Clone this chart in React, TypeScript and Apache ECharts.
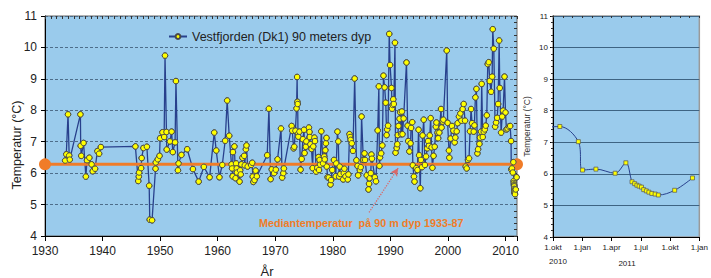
import React, { useEffect, useRef } from "react";
import * as echarts from "echarts";

const FONT = "'Liberation Sans', Arial, Helvetica, sans-serif";

const seriesName = "Vestfjorden (Dk1) 90 meters dyp";

const years = [
  1933.5, 1933.7, 1934.0, 1934.2, 1934.3, 1936.15, 1936.2, 1936.3, 1936.7, 1937.1,
  1937.3, 1937.7, 1938.1, 1938.3, 1938.7, 1939.1, 1939.4, 1939.7, 1945.7, 1946.2,
  1946.3, 1946.35, 1946.7, 1946.8, 1947.1, 1947.7, 1948.1, 1948.2, 1948.6, 1949.2,
  1949.25, 1949.6, 1949.9, 1950.0, 1950.4, 1950.7, 1950.85, 1951.1, 1951.15, 1951.7,
  1952.0, 1952.2, 1952.6, 1952.75, 1953.1, 1953.2, 1953.7, 1954.7, 1955.7, 1956.7,
  1957.6, 1958.6, 1959.4, 1959.75, 1960.3, 1960.8, 1961.3, 1961.65, 1962.0, 1962.4,
  1962.5, 1962.6, 1962.65, 1962.9, 1963.1, 1963.2, 1963.3, 1963.35, 1963.8, 1963.9,
  1964.0, 1964.1, 1964.3, 1964.6, 1964.7, 1964.9, 1965.0, 1965.2, 1965.8, 1966.0,
  1966.1, 1966.2, 1966.4, 1966.6, 1966.8, 1968.6, 1968.9, 1969.2, 1969.4, 1969.8,
  1970.1, 1970.4, 1971.0, 1971.2, 1971.4, 1971.5, 1972.85, 1972.95, 1973.2, 1973.3,
  1973.5, 1973.7, 1973.8, 1973.85, 1973.9, 1973.95, 1974.0, 1974.2, 1974.4, 1974.6,
  1974.8, 1975.0, 1975.1, 1975.3, 1975.4, 1975.85, 1975.95, 1976.0, 1976.1, 1976.3,
  1976.5, 1976.6, 1976.8, 1976.9, 1977.1, 1977.3, 1977.5, 1977.6, 1977.7, 1977.8,
  1978.0, 1978.3, 1978.5, 1978.6, 1978.7, 1978.8, 1978.9, 1978.95, 1979.1, 1979.3,
  1979.6, 1979.7, 1979.9, 1980.2, 1980.5, 1980.6, 1980.8, 1980.95, 1981.1, 1981.2,
  1981.3, 1981.8, 1981.9, 1982.0, 1982.2, 1982.6, 1982.7, 1982.9, 1983.0, 1983.1,
  1983.3, 1983.5, 1983.8, 1984.1, 1984.3, 1984.4, 1984.7, 1984.85, 1985.0, 1985.3,
  1985.5, 1985.6, 1985.9, 1986.2, 1986.3, 1986.4, 1986.6, 1986.7, 1986.8, 1987.3,
  1987.5, 1987.8, 1988.0, 1988.1, 1988.2, 1988.4, 1988.6, 1988.8, 1989.0, 1989.2,
  1989.35, 1989.45, 1989.6, 1989.8, 1989.95, 1990.2, 1990.3, 1990.4, 1990.5, 1990.6,
  1990.8, 1990.9, 1991.1, 1991.2, 1991.3, 1991.4, 1991.6, 1991.7, 1991.85, 1992.0,
  1992.1, 1992.3, 1992.8, 1993.0, 1993.1, 1993.3, 1993.5, 1993.6, 1993.8, 1993.9,
  1994.1, 1994.2, 1994.5, 1994.7, 1994.9, 1995.0, 1995.2, 1995.3, 1995.5, 1995.6,
  1995.8, 1996.0, 1996.2, 1996.4, 1996.55, 1996.7, 1996.85, 1997.0, 1997.15, 1997.3,
  1997.5, 1997.7, 1997.9, 1998.0, 1998.2, 1998.3, 1998.5, 1998.8, 1998.9, 1999.1,
  1999.2, 1999.8, 1999.95, 2000.18, 2000.24, 2000.47, 2000.7, 2000.94, 2001.17, 2001.28,
  2001.52, 2001.69, 2001.92, 2002.16, 2002.33, 2002.56, 2002.74, 2002.97, 2003.09, 2003.26,
  2003.49, 2003.67, 2003.84, 2004.02, 2004.19, 2004.48, 2004.6, 2004.77, 2004.95, 2005.12,
  2005.24, 2005.47, 2005.58, 2005.76, 2005.87, 2006.05, 2006.22, 2006.4, 2006.57, 2006.75,
  2006.92, 2007.09, 2007.27, 2007.5, 2007.68, 2007.79, 2007.97, 2008.2, 2008.37, 2008.55,
  2008.72, 2008.9, 2009.01, 2009.24, 2009.42, 2009.59, 2009.83, 2010.0, 2010.17, 2010.35,
  2010.6, 2010.81, 2010.97, 2011.0, 2011.12, 2011.28, 2011.37, 2011.43, 2011.45, 2011.47,
  2011.49, 2011.51, 2011.53, 2011.55, 2011.57, 2011.59, 2011.62, 2011.65, 2011.79, 2011.94,
];

const temps = [
  6.40, 6.60, 7.87, 6.56, 6.43, 7.87, 6.87, 6.55, 6.96, 5.89,
  6.41, 6.49, 6.28, 6.06, 6.14, 6.70, 6.62, 6.83, 6.85, 5.75,
  5.89, 6.02, 6.16, 6.48, 6.80, 6.84, 5.60, 4.52, 4.50, 6.14,
  6.34, 6.44, 6.55, 7.11, 7.30, 7.15, 9.74, 7.31, 6.75, 7.01,
  7.32, 6.67, 6.98, 8.93, 6.09, 6.31, 6.58, 6.76, 6.13, 5.73,
  6.20, 5.87, 7.29, 6.72, 5.87, 6.26, 7.03, 8.31, 7.19, 6.28,
  6.15, 5.90, 6.67, 6.85, 5.84, 6.31, 6.15, 6.02, 5.73, 6.09,
  5.96, 6.28, 6.49, 6.55, 6.25, 6.76, 6.88, 6.21, 6.26, 6.33,
  5.89, 5.72, 5.78, 6.08, 5.90, 6.57, 8.05, 5.81, 6.12, 6.00,
  6.11, 6.44, 7.42, 5.86, 6.00, 6.15, 7.50, 7.35, 6.79, 6.84,
  7.35, 8.06, 9.06, 8.27, 8.20, 7.25, 7.16, 7.32, 6.11, 6.45,
  7.08, 7.38, 6.64, 6.84, 7.01, 7.45, 7.31, 7.15, 6.92, 6.77,
  6.16, 6.85, 7.13, 7.02, 6.05, 6.17, 6.51, 6.10, 6.42, 6.27,
  7.33, 6.31, 6.53, 6.44, 6.73, 6.95, 7.12, 6.21, 5.87, 5.86,
  5.64, 5.78, 6.10, 6.42, 5.90, 6.31, 7.32, 7.01, 5.89, 6.21,
  5.97, 5.80, 6.00, 6.14, 5.90, 5.80, 5.96, 7.24, 7.15, 7.06,
  6.95, 6.71, 9.01, 6.41, 6.23, 5.93, 6.10, 6.19, 7.80, 6.42,
  6.63, 6.42, 5.93, 5.48, 5.66, 5.84, 6.00, 6.59, 6.46, 5.87,
  5.74, 7.36, 8.76, 6.23, 6.50, 6.63, 6.88, 9.10, 8.73, 8.24,
  7.21, 7.39, 7.51, 10.43, 9.44, 8.71, 8.05, 8.17, 8.35, 8.20,
  10.15, 6.65, 6.80, 6.92, 7.21, 7.50, 7.73, 7.94, 7.24, 7.96,
  7.24, 7.74, 9.52, 7.51, 7.02, 6.69, 6.95, 7.44, 7.62, 6.25,
  5.89, 5.73, 6.16, 6.10, 7.38, 6.57, 5.52, 6.42, 6.19, 7.20,
  7.70, 6.26, 6.53, 6.79, 7.02, 6.87, 7.20, 7.75, 6.82, 6.17,
  6.55, 6.84, 7.48, 7.61, 7.29, 7.11, 7.29, 8.04, 7.45, 7.64,
  7.70, 9.90, 7.60, 6.72, 6.49, 7.10, 7.50, 7.35, 6.98, 7.13,
  7.33, 7.59, 7.80, 7.90, 7.67, 8.04, 8.20, 7.67, 6.21, 6.15,
  6.42, 6.47, 7.33, 8.04, 7.59, 7.32, 7.52, 8.41, 8.68, 6.63,
  6.76, 6.93, 7.13, 7.32, 8.84, 7.15, 7.32, 7.39, 7.51, 7.84,
  9.47, 9.53, 8.93, 8.59, 9.07, 10.58, 9.96, 7.48, 7.61, 7.76,
  8.20, 10.22, 8.71, 7.29, 7.80, 7.99, 9.07, 7.93, 7.39, 7.42,
  7.48, 7.50, 7.02, 6.12, 6.15, 6.02, 6.35, 5.75, 5.69, 5.64,
  5.61, 5.58, 5.50, 5.46, 5.42, 5.38, 5.36, 5.33, 5.48, 5.87,
];

const medianYears = [1930, 2012];
const medianTemp = 6.28;
const medianLabel = "Mediantemperatur  på 90 m dyp 1933-87";
const arrowFrom = [1986.3, 4.75];
const arrowTo = [1991.35, 6.16];

// right panel: months since 1 Oct 2010
const rightMonths = [-0.6, 0.7, 2.6, 3.03, 4.4, 6.37, 7.47, 8.1, 8.37, 8.6, 8.83, 9.07, 9.3, 9.57, 9.83, 10.13, 10.47, 10.8, 12.47, 14.3];
const rightTemps = [7.48, 7.5, 7.02, 6.12, 6.15, 6.02, 6.35, 5.75, 5.69, 5.64, 5.61, 5.58, 5.5, 5.46, 5.42, 5.38, 5.36, 5.33, 5.48, 5.87];
const rightTickLabels = ["1.okt", "1.jan", "1.apr", "1.jul", "1.okt", "1.jan"];
const rightYearLabels = ["2010", "2011"];

const PLOT_BG = "#9ACBEC";
const LINE_BLUE = "#28408C";
const ORANGE = "#F07C28";

export default function App() {
  const ref = useRef<HTMLDivElement>(null);

  useEffect(() => {
    if (!ref.current) return;
    const chart = echarts.init(ref.current, undefined, { renderer: "svg" });
    const mainData = years.map((y, i) => [y, temps[i]]);
    const rightData = rightMonths.map((m, i) => [m, rightTemps[i]]);
    const medianData = medianYears.map((y) => [y, medianTemp]);

    const option: any = {
      animation: false,
      textStyle: { fontFamily: FONT },
      grid: [
        { left: 45, top: 16, width: 472, height: 220, show: true, backgroundColor: PLOT_BG, borderColor: "#666", borderWidth: 1 },
        { left: 553, top: 16, width: 150, height: 221, show: true, backgroundColor: PLOT_BG, borderColor: "#9a9a9a", borderWidth: 1.5 },
      ],
      legend: {
        data: [seriesName],
        left: 163,
        top: 25,
        itemWidth: 18,
        itemHeight: 6,
        textStyle: { fontSize: 12.5, color: "#222", fontFamily: FONT },
      },
      xAxis: [
        {
          gridIndex: 0, type: "value", min: 1930, max: 2012, interval: 10,
          axisLine: { lineStyle: { color: "#000", width: 1 } },
          axisTick: { show: true, length: 5, lineStyle: { color: "#000" } },
          axisLabel: { fontSize: 12, color: "#222", margin: 9, fontFamily: FONT, formatter: (v: number) => (v % 10 === 0 ? String(v) : "") },
          splitLine: { show: false },
        },
        {
          gridIndex: 0, type: "value", min: 1930, max: 2012, interval: 1,
          axisLine: { show: false },
          axisTick: { show: true, inside: true, length: 3, lineStyle: { color: "#333" } },
          axisLabel: { show: false },
          splitLine: { show: false },
        },
        {
          gridIndex: 1, type: "value", min: 0, max: 15, interval: 3,
          axisLine: { lineStyle: { color: "#000", width: 1 } },
          axisTick: { show: true, length: 4, lineStyle: { color: "#000" } },
          axisLabel: { fontSize: 8, color: "#222", margin: 6, fontFamily: FONT, formatter: (v: number) => rightTickLabels[Math.round(v / 3)] ?? "" },
          splitLine: { show: false },
        },
        {
          gridIndex: 1, type: "value", min: 0, max: 15, interval: 1,
          axisLine: { show: false },
          axisTick: { show: true, inside: true, length: 2, lineStyle: { color: "#333" } },
          axisLabel: { show: false },
          splitLine: { show: false },
        },
      ],
      yAxis: [
        {
          gridIndex: 0, type: "value", min: 4, max: 11, interval: 1,
          axisLine: { show: true, lineStyle: { color: "#000", width: 1 } },
          axisTick: { show: true, length: 4, lineStyle: { color: "#000" } },
          axisLabel: { fontSize: 12, color: "#222", margin: 8, fontFamily: FONT },
          splitLine: { show: true, lineStyle: { color: "#4d6d8a", type: [3, 2], width: 1 } },
        },
        {
          gridIndex: 0, type: "value", min: 4, max: 11, interval: 0.2,
          axisLine: { show: false },
          axisTick: { show: true, inside: true, length: 3, lineStyle: { color: "#333" } },
          axisLabel: { show: false },
          splitLine: { show: false },
        },
        {
          gridIndex: 1, type: "value", min: 4, max: 11, interval: 1,
          axisLine: { show: true, lineStyle: { color: "#000", width: 1 } },
          axisTick: { show: true, length: 3, lineStyle: { color: "#000" } },
          axisLabel: { fontSize: 8, color: "#222", margin: 5, fontFamily: FONT },
          splitLine: { show: true, lineStyle: { color: "#3e6483", width: 1 } },
          name: "Temperatur (°C)",
          nameLocation: "middle",
          nameGap: 22,
          nameTextStyle: { fontSize: 8.5, color: "#333", fontFamily: FONT },
        },
        {
          gridIndex: 1, type: "value", min: 4, max: 11, interval: 0.2,
          axisLine: { show: false },
          axisTick: { show: true, inside: true, length: 2, lineStyle: { color: "#333" } },
          axisLabel: { show: false },
          splitLine: { show: false },
        },
      ],
      series: [
        {
          name: seriesName,
          type: "line",
          xAxisIndex: 0,
          yAxisIndex: 0,
          data: mainData,
          symbol: "circle",
          symbolSize: 5.5,
          showAllSymbol: true,
          lineStyle: { color: LINE_BLUE, width: 1.3 },
          itemStyle: { color: "#FFFF00", borderColor: "#4a4a4a", borderWidth: 1 },
          z: 2,
        },
        {
          name: "median",
          type: "line",
          xAxisIndex: 0,
          yAxisIndex: 0,
          data: medianData,
          symbol: "circle",
          symbolSize: 12,
          clip: false,
          lineStyle: { color: ORANGE, width: 3 },
          itemStyle: { color: ORANGE },
          z: 3,
          markLine: {
            silent: true,
            symbol: ["none", "arrow"],
            symbolSize: [6, 8],
            lineStyle: { type: "dotted", color: "#D8696A", width: 1.3 },
            label: { show: false },
            data: [[{ coord: arrowFrom }, { coord: arrowTo }]],
          },
        },
        {
          name: "points",
          type: "scatter",
          xAxisIndex: 0,
          yAxisIndex: 0,
          data: mainData,
          symbol: "circle",
          symbolSize: 5.5,
          itemStyle: { color: "#FFFF00", borderColor: "#4a4a4a", borderWidth: 1, opacity: 1 },
          z: 4,
        },
        {
          name: "right",
          type: "line",
          xAxisIndex: 2,
          yAxisIndex: 2,
          data: rightData,
          smooth: 0.35,
          symbol: "rect",
          symbolSize: 4,
          showAllSymbol: true,
          lineStyle: { color: LINE_BLUE, width: 1 },
          itemStyle: { color: "#FFFF00", borderColor: "#555", borderWidth: 0.7 },
          z: 3,
        },
      ],
      graphic: [
        {
          type: "text", x: 17, y: 145, rotation: Math.PI / 2,
          style: { text: "Temperatur (°C)", fontSize: 12.5, fontFamily: FONT, fill: "#222", textAlign: "center", textVerticalAlign: "middle" },
        },
        {
          type: "text", x: 267, y: 271,
          style: { text: "År", fontSize: 13, fontFamily: FONT, fill: "#222", textAlign: "center", textVerticalAlign: "middle" },
        },
        {
          type: "text", x: 259, y: 223, z: 10,
          style: { text: medianLabel, fontSize: 10.8, fontWeight: "bold", fontFamily: FONT, fill: ORANGE, textAlign: "left", textVerticalAlign: "middle" },
        },
        {
          type: "text", x: 558, y: 261,
          style: { text: rightYearLabels[0], fontSize: 8, fontFamily: FONT, fill: "#222", textAlign: "center", textVerticalAlign: "middle" },
        },
        {
          type: "text", x: 627, y: 263,
          style: { text: rightYearLabels[1], fontSize: 8, fontFamily: FONT, fill: "#222", textAlign: "center", textVerticalAlign: "middle" },
        },
      ],
    };
    chart.setOption(option);
    return () => chart.dispose();
  }, []);

  return <div ref={ref} style={{ position: "fixed", left: 0, top: 0, width: 711, height: 278, background: "#fff" }} />;
}
